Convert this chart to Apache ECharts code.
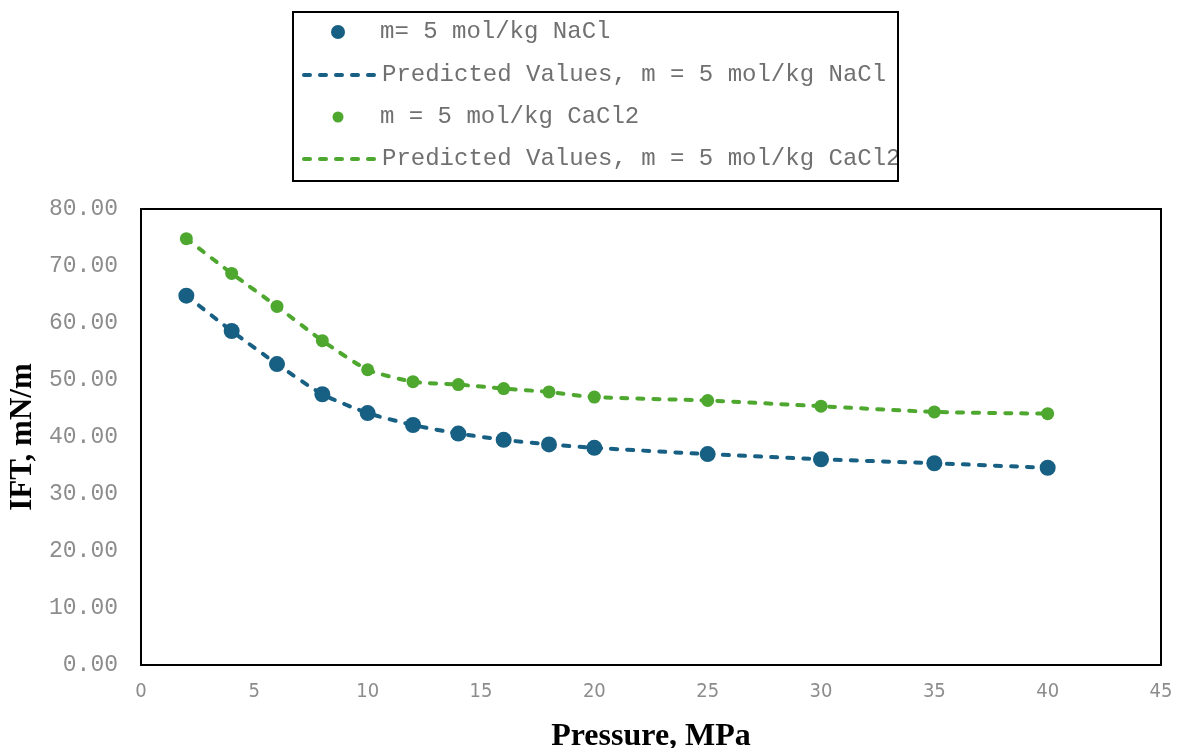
<!DOCTYPE html>
<html>
<head>
<meta charset="utf-8">
<script src="https://cdn.jsdelivr.net/npm/echarts@6/dist/echarts.min.js"></script>
<style>
  html, body { margin: 0; padding: 0; background: #fff; }
  #chart { width: 1190px; height: 748px; }
</style>
</head>
<body>
<div id="chart"></div>
<script>
// Pressure (MPa) at which IFT was measured / predicted
const pressures = [2, 4, 6, 8, 10, 12, 14, 16, 18, 20, 25, 30, 35, 40];

// Measured IFT, mN/m
const naclMeasured  = [64.8, 58.6, 52.8, 47.5, 44.2, 42.1, 40.6, 39.5, 38.7, 38.1, 37.0, 36.1, 35.4, 34.6];
const cacl2Measured = [74.8, 68.7, 62.9, 56.9, 51.8, 49.7, 49.2, 48.5, 47.9, 47.0, 46.4, 45.4, 44.4, 44.1];

// Model predictions, mN/m
const naclPredicted  = [64.8, 58.6, 52.8, 47.5, 44.2, 42.1, 40.6, 39.5, 38.7, 38.1, 37.0, 36.1, 35.4, 34.6];
const cacl2Predicted = [74.8, 68.7, 62.9, 56.9, 51.8, 49.7, 49.2, 48.5, 47.9, 47.0, 46.4, 45.4, 44.4, 44.1];

const seriesNames = [
  'm= 5 mol/kg NaCl',
  'Predicted Values, m = 5 mol/kg NaCl',
  'm = 5 mol/kg CaCl2',
  'Predicted Values, m = 5 mol/kg CaCl2'
];

const BLUE = '#175F83';
const GREEN = '#4EA72E';

const pairs = (xs, ys) => xs.map((x, i) => [x, ys[i]]);

const dashStyle = color => ({ color: color, width: 4, type: [6, 10], cap: 'round' });

const legendFont = { fontFamily: '"Liberation Mono", "Courier New", monospace', fontSize: 24, color: '#707070' };
const rowCenters = [34, 77, 119, 161];

// Marker rows: a single dot centred under the dashed-line icons
const markerLegend = (i, size) => ({
  data: [{ name: seriesNames[i], icon: 'circle' }],
  left: 338 - size / 2,
  top: rowCenters[i] - 14,
  itemWidth: size,
  itemHeight: size,
  selectedMode: false,
  padding: 0,
  textStyle: Object.assign({ padding: [0, 0, 0, 380 - (338 + size / 2 + 5)] }, legendFont)
});

// Line rows: dashed stroke only
const lineLegend = (i, color) => ({
  data: [{
    name: seriesNames[i],
    itemStyle: { opacity: 0, color: 'transparent', borderWidth: 0 },
    lineStyle: dashStyle(color)
  }],
  left: 302,
  top: rowCenters[i] - 14,
  itemWidth: 73,
  itemHeight: 14,
  selectedMode: false,
  padding: 0,
  textStyle: legendFont
});

const chart = echarts.init(document.getElementById('chart'), null, { renderer: 'canvas' });

chart.setOption({
  backgroundColor: '#ffffff',
  animation: false,
  graphic: [{
    type: 'rect',
    shape: { x: 293, y: 12, width: 605, height: 169 },
    style: { fill: 'none', stroke: '#000', lineWidth: 2 },
    z: 10
  }],
  legend: [
    markerLegend(0, 14),
    lineLegend(1, BLUE),
    markerLegend(2, 11),
    lineLegend(3, GREEN)
  ],
  grid: {
    left: 141, right: 29, top: 209, bottom: 83,
    outerBoundsMode: 'none',
    containLabel: false,
    show: true, borderColor: '#000', borderWidth: 2, backgroundColor: 'transparent'
  },
  xAxis: {
    type: 'value',
    min: 0, max: 45, interval: 5,
    axisLine: { show: false },
    axisTick: { show: false },
    splitLine: { show: false },
    axisLabel: {
      margin: 17,
      color: '#8c8c8c',
      fontFamily: '"Liberation Sans Narrow", "DejaVu Sans Condensed", sans-serif',
      fontSize: 20
    },
    name: 'Pressure, MPa',
    nameLocation: 'middle',
    nameGap: 56,
    nameTextStyle: {
      fontFamily: '"Liberation Serif", "Times New Roman", serif',
      fontWeight: 'bold', fontSize: 32, color: '#000'
    }
  },
  yAxis: {
    type: 'value',
    min: 0, max: 80, interval: 10,
    axisLine: { show: false },
    axisTick: { show: false },
    splitLine: { show: false },
    axisLabel: {
      margin: 23,
      color: '#8c8c8c',
      fontFamily: '"Liberation Mono", "Courier New", monospace',
      fontSize: 23,
      formatter: v => v.toFixed(2)
    },
    name: 'IFT, mN/m',
    nameLocation: 'middle',
    nameGap: 95,
    nameRotate: 90,
    nameTextStyle: {
      fontFamily: '"Liberation Serif", "Times New Roman", serif',
      fontWeight: 'bold', fontSize: 31, color: '#000'
    }
  },
  series: [
    {
      name: seriesNames[0], type: 'scatter',
      data: pairs(pressures, naclMeasured),
      symbol: 'circle', symbolSize: 16,
      itemStyle: { color: BLUE, opacity: 1 }
    },
    {
      name: seriesNames[1], type: 'line',
      data: pairs(pressures, naclPredicted),
      symbol: 'none', smooth: 0.2,
      lineStyle: dashStyle(BLUE),
      itemStyle: { color: BLUE }
    },
    {
      name: seriesNames[2], type: 'scatter',
      data: pairs(pressures, cacl2Measured),
      symbol: 'circle', symbolSize: 13,
      itemStyle: { color: GREEN, opacity: 1 }
    },
    {
      name: seriesNames[3], type: 'line',
      data: pairs(pressures, cacl2Predicted),
      symbol: 'none', smooth: 0.2,
      lineStyle: dashStyle(GREEN),
      itemStyle: { color: GREEN }
    }
  ]
});
</script>
</body>
</html>
